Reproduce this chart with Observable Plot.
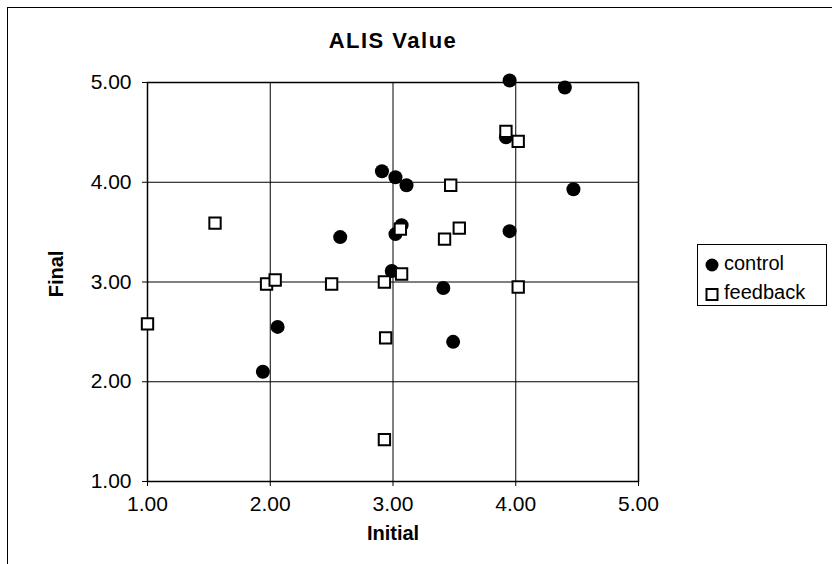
<!DOCTYPE html>
<html>
<head>
<meta charset="utf-8">
<script src="https://cdn.jsdelivr.net/npm/d3@7"></script>
<script src="https://cdn.jsdelivr.net/npm/@observablehq/plot@0.6"></script>
<style>
  html, body { margin: 0; padding: 0; background: #fff; }
  #wrap { position: relative; width: 832px; height: 564px; overflow: hidden; font-family: "Liberation Sans", Arial, sans-serif; }
  #frame { position: absolute; left: 7px; top: 7px; width: 900px; height: 600px; border-left: 1.5px solid #000; border-top: 1.5px solid #000; pointer-events: none; }
  #legend { position: absolute; left: 697px; top: 244px; width: 130px; height: 62px; border: 1.5px solid #000; background: #fff; box-sizing: border-box; font-size: 20px; color: #000; }
  .item { position: absolute; left: 6px; display: flex; align-items: flex-end; }
  .item span { margin-left: 4px; line-height: 20px; }
</style>
</head>
<body>
<div id="wrap">
  <div id="chart"></div>
  <div id="frame"></div>
  <div id="legend">
    <div class="item" style="top:4px">
      <svg width="16" height="24"><circle cx="8" cy="16" r="6.5" fill="#000"/></svg>
      <span>control</span>
    </div>
    <div class="item" style="top:31px">
      <svg width="16" height="26"><rect x="2.5" y="13" width="11" height="11" fill="#fff" stroke="#000" stroke-width="2"/></svg>
      <span>feedback</span>
    </div>
  </div>
</div>
<script>
const title = "ALIS Value";
const xLabel = "Initial";
const yLabel = "Final";
const tickValues = [1, 2, 3, 4, 5];

const controlInitial = [2.91, 2.57, 3.95, 4.40, 3.92, 3.02, 3.11, 4.47, 3.07, 3.02, 3.95, 2.99, 3.41, 3.49, 2.06, 1.94];
const controlFinal   = [4.11, 3.45, 5.02, 4.95, 4.45, 4.05, 3.97, 3.93, 3.57, 3.48, 3.51, 3.11, 2.94, 2.40, 2.55, 2.10];

const feedbackInitial = [1.55, 3.92, 4.02, 3.47, 3.06, 3.54, 3.42, 3.07, 2.93, 4.02, 2.94, 2.93, 1.97, 2.04, 2.50, 1.00];
const feedbackFinal   = [3.59, 4.51, 4.41, 3.97, 3.53, 3.54, 3.43, 3.08, 3.00, 2.95, 2.44, 1.42, 2.98, 3.02, 2.98, 2.58];

const control = controlInitial.map((x, i) => ({x, y: controlFinal[i]}));
const feedback = feedbackInitial.map((x, i) => ({x, y: feedbackFinal[i]}));

const chart = Plot.plot({
  width: 832,
  height: 564,
  marginLeft: 147,
  marginRight: 194,
  marginTop: 82,
  marginBottom: 83,
  style: { fontFamily: "'Liberation Sans', Arial, sans-serif", fontSize: "21px", color: "#000", background: "transparent", overflow: "visible" },
  x: { domain: [1, 5], ticks: tickValues, tickFormat: d3.format(".2f"), tickSize: 5, tickPadding: 10, label: xLabel, labelArrow: "none", labelAnchor: "center", labelOffset: 58 },
  y: { domain: [1, 5], ticks: tickValues, tickFormat: d3.format(".2f"), tickSize: 5, tickPadding: 11, label: yLabel, labelArrow: "none", labelAnchor: "center", labelOffset: 99 },
  marks: [
    Plot.ruleX(tickValues, { stroke: "#000", strokeWidth: 1 }),
    Plot.ruleY(tickValues, { stroke: "#000", strokeWidth: 1 }),
    Plot.frame({ stroke: "#000", strokeWidth: 1.5 }),
    Plot.dot(control, { x: "x", y: "y", r: 7, symbol: "circle", fill: "#000", stroke: "none" }),
    Plot.dot(feedback, { x: "x", y: "y", r: 6.4, symbol: "square", fill: "#fff", stroke: "#000", strokeWidth: 2 }),
    Plot.text([title], { frameAnchor: "top", dy: -50, fontWeight: "bold", fontSize: 22, fill: "#000" })
  ]
});
document.getElementById("chart").appendChild(chart);

chart.querySelectorAll("text").forEach(t => {
  const s = t.textContent.trim();
  if (s === xLabel || s === yLabel) {
    t.setAttribute("font-weight", "bold");
    t.setAttribute("font-size", "20px");
    t.setAttribute("fill", "#000");
  }
  if (s === yLabel) t.setAttribute("dx", "8");
  if (s === title) t.style.letterSpacing = "1.5px";
});
</script>
</body>
</html>
